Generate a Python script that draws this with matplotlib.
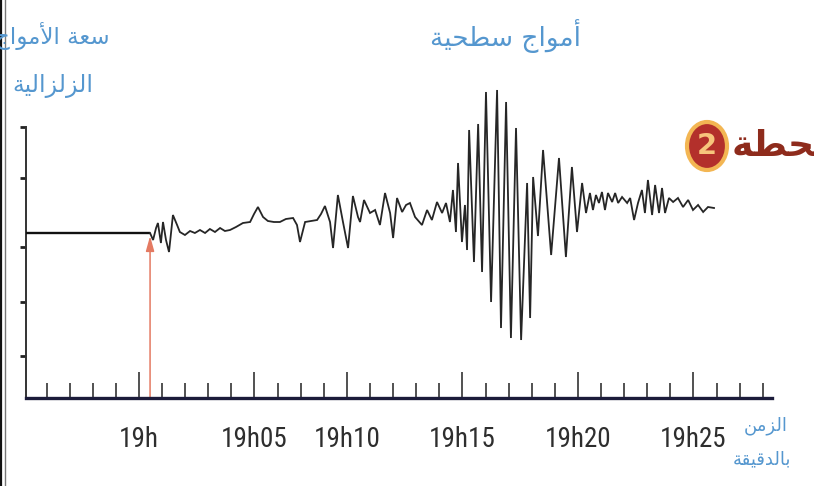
import matplotlib
matplotlib.use("Agg")
import matplotlib.pyplot as plt
from matplotlib import font_manager as fm
from matplotlib.patches import Ellipse
from matplotlib.lines import Line2D

# ---------------- data (time in minutes after 19h, amplitude in arbitrary units) -------------
baseline_t = [-4.89, 0.48]
baseline_a = [0.0, 0.0]

trace_t = [0.48, 0.61, 0.74, 0.82, 0.95, 1.04, 1.17, 1.30, 1.47, 1.65, 1.77, 1.99, 2.21, 2.42,
           2.64, 2.86, 3.07, 3.29, 3.51, 3.72, 3.94, 4.20, 4.50, 4.81, 4.98, 5.15, 5.37, 5.58,
           5.84, 6.10, 6.36, 6.67, 6.84, 6.97, 7.19, 7.45, 7.71, 7.88, 8.05, 8.27, 8.40, 8.61,
           8.83, 9.05, 9.26, 9.48, 9.57, 9.74, 10.00, 10.22, 10.43, 10.65, 10.87, 11.00, 11.17,
           11.39, 11.56, 11.73, 11.95, 12.25, 12.47, 12.68, 12.90, 13.12, 13.29, 13.46, 13.59,
           13.72, 13.81, 13.98, 14.11, 14.20, 14.29, 14.50, 14.68, 14.85, 15.02, 15.24, 15.50,
           15.67, 15.89, 16.10, 16.32, 16.54, 16.80, 16.93, 17.06, 17.27, 17.49, 17.84, 18.18,
           18.48, 18.74, 18.96, 19.18, 19.35, 19.52, 19.65, 19.78, 19.91, 20.04, 20.17, 20.30,
           20.48, 20.61, 20.74, 20.91, 21.13, 21.26, 21.43, 21.60, 21.77, 21.90, 22.03, 22.21,
           22.34, 22.51, 22.64, 22.77, 22.94, 23.12, 23.33, 23.55, 23.77, 23.98, 24.20, 24.42,
           24.63, 24.89]
trace_a = [0.0, -0.7, 0.5, 1.0, -1.0, 1.1, -0.7, -1.9, 1.8, 0.8, 0.1, -0.2, 0.2, 0.0,
           0.3, 0.0, 0.4, 0.1, 0.5, 0.2, 0.3, 0.6, 1.0, 1.1, 1.9, 2.6, 1.6, 1.2,
           1.1, 1.1, 1.4, 1.5, 0.8, -0.9, 1.1, 1.2, 1.3, 1.9, 2.7, 1.1, -1.5, 3.8,
           1.1, -1.5, 3.7, 1.6, 1.1, 3.3, 2.0, 2.3, 0.8, 4.0, 2.0, -0.5, 3.5,
           2.1, 2.8, 3.0, 1.6, 0.8, 2.3, 1.3, 3.1, 2.0, 3.0, 1.1, 4.3,
           0.1, 7.0, -0.9, 2.8, -1.7, 10.3, -2.9, 10.9, -3.9, 14.1, -6.9, 14.3,
           -9.5, 13.1, -10.5, 10.5, -10.7, 5.0, -8.5, 5.6, -0.3, 8.3, -2.2, 7.5,
           -2.4, 6.6, 0.1, 5.0, 2.0, 4.0, 2.3, 3.8, 3.0, 4.1, 2.3, 4.0,
           3.1, 4.0, 3.0, 3.6, 3.0, 3.5, 1.3, 3.0, 4.3, 2.0, 5.3, 1.8,
           4.8, 2.0, 4.5, 2.0, 3.5, 3.1, 3.5, 2.6, 3.3, 2.3, 2.8, 2.1,
           2.6, 2.5]

arrival_t = 0.48
minor_ticks = list(range(-4, 28))
major_ticks = [0, 5, 9, 14, 19, 24]
major_labels = ["19h", "19h05", "19h10", "19h15", "19h20", "19h25"]
y_ticks = [10.6, 5.5, -1.4, -6.9, -12.3]

y_title = ["سعة الأمواج", "الزلزالية"]
x_title = ["الزمن", "بالدقيقة"]
surface_label = "أمواج سطحية"
station_label = "محطة"
station_num = "2"

# ---------------- minimal Arabic shaping (presentation forms + RTL) ----------------
FORMS = {
    '\u0627': ('\uFE8D', '\uFE8E', None, None),
    '\u0623': ('\uFE83', '\uFE84', None, None),
    '\u0628': ('\uFE8F', '\uFE90', '\uFE91', '\uFE92'),
    '\u0629': ('\uFE93', '\uFE94', None, None),
    '\u062C': ('\uFE9D', '\uFE9E', '\uFE9F', '\uFEA0'),
    '\u062D': ('\uFEA1', '\uFEA2', '\uFEA3', '\uFEA4'),
    '\u062F': ('\uFEA9', '\uFEAA', None, None),
    '\u0632': ('\uFEAF', '\uFEB0', None, None),
    '\u0633': ('\uFEB1', '\uFEB2', '\uFEB3', '\uFEB4'),
    '\u0637': ('\uFEC1', '\uFEC2', '\uFEC3', '\uFEC4'),
    '\u0639': ('\uFEC9', '\uFECA', '\uFECB', '\uFECC'),
    '\u0642': ('\uFED5', '\uFED6', '\uFED7', '\uFED8'),
    '\u0644': ('\uFEDD', '\uFEDE', '\uFEDF', '\uFEE0'),
    '\u0645': ('\uFEE1', '\uFEE2', '\uFEE3', '\uFEE4'),
    '\u0646': ('\uFEE5', '\uFEE6', '\uFEE7', '\uFEE8'),
    '\u0648': ('\uFEED', '\uFEEE', None, None),
    '\u064A': ('\uFEF1', '\uFEF2', '\uFEF3', '\uFEF4'),
}
LAM_ALEF = {'\u0627': ('\uFEFB', '\uFEFC'), '\u0623': ('\uFEF7', '\uFEF8')}


def shape(s):
    chars = list(s)
    n = len(chars)
    out = []

    def joins_next(c):
        return c in FORMS and FORMS[c][2] is not None

    i = 0
    while i < n:
        c = chars[i]
        if c not in FORMS:
            out.append(c)
            i += 1
            continue
        prev_j = i > 0 and joins_next(chars[i - 1])
        if c == '\u0644' and i + 1 < n and chars[i + 1] in LAM_ALEF:
            out.append(LAM_ALEF[chars[i + 1]][1 if prev_j else 0])
            i += 2
            continue
        nxt_ok = i + 1 < n and chars[i + 1] in FORMS
        iso, fin, ini, med = FORMS[c]
        if ini is not None and nxt_ok:
            out.append(med if prev_j else ini)
        else:
            out.append(fin if prev_j else iso)
        i += 1
    return ''.join(reversed(out))


def narrow_font():
    """Pick a condensed / narrow sans font file if one is installed."""
    cands = []
    for f in fm.fontManager.ttflist:
        nm = (f.name + ' ' + f.fname).lower()
        st = str(f.stretch).lower()
        if ('narrow' in nm or 'condensed' in nm or 'condensed' in st):
            if 'italic' in nm or 'oblique' in nm or 'bold' in nm or 'light' in nm \
                    or 'thin' in nm or 'black' in nm:
                continue
            cands.append(f)
    if not cands:
        return None
    pref = ['liberation', 'roboto', 'open', 'noto', 'dejavu']
    cands.sort(key=lambda f: ([i for i, p in enumerate(pref) if p in f.fname.lower()] or [9])[0])
    return fm.FontProperties(fname=cands[0].fname)


nf = narrow_font()
if nf is None:
    tick_fp = fm.FontProperties(family='Liberation Sans', size=17)
else:
    tick_fp = nf.copy()
    tick_fp.set_size(19.5)

ar_font = ['DejaVu Sans']

W, H = 814, 486
fig = plt.figure(figsize=(W / 100, H / 100), dpi=100)
fig.patch.set_facecolor('white')


def fx(x):
    return x / W


def fy(y):
    return 1 - y / H


ax = fig.add_axes([fx(26), fy(398), fx(772) - fx(26), fy(80) - fy(398)])
ax.set_xlim(-4.89, 27.4)
ax.set_ylim(-16.5, 15.3)
ax.set_facecolor('none')

ax.plot(baseline_t, baseline_a, color='#111111', lw=1.7, solid_capstyle='butt', zorder=3)
ax.plot(trace_t, trace_a, color='#262626', lw=1.3, zorder=3, solid_joinstyle='miter')

ax.annotate('', xy=(arrival_t, -0.3), xytext=(arrival_t, -16.5),
            arrowprops=dict(arrowstyle='-|>,head_length=0.9,head_width=0.25',
                            color='#e47a62', lw=1.1, shrinkA=0, shrinkB=0), zorder=2)

for s in ['top', 'right']:
    ax.spines[s].set_visible(False)
ax.spines['bottom'].set_color('#1c1c3a')
ax.spines['bottom'].set_linewidth(2.4)
ax.spines['left'].set_color('#333333')
ax.spines['left'].set_linewidth(1.4)
ax.spines['left'].set_bounds(-16.5, 10.6)

ax.set_xticks(major_ticks)
ax.set_xticklabels(major_labels)
ax.set_xticks(minor_ticks, minor=True)
ax.tick_params(axis='x', which='major', direction='in', length=19, width=1.2,
               color='#333333', pad=20, labelcolor='#2e2e2e')
ax.tick_params(axis='x', which='minor', direction='in', length=10.5, width=1.2, color='#333333')
for lab in ax.get_xticklabels():
    lab.set_fontproperties(tick_fp)

ax.set_yticks(y_ticks)
ax.set_yticklabels([])
ax.tick_params(axis='y', which='major', direction='out', length=4.5, width=2, color='#222222')

blue = '#5597cf'
fig.text(fx(110), fy(36), shape(y_title[0]), ha='right', va='center', fontsize=16.5,
         color=blue, family=ar_font)
fig.text(fx(53), fy(86), shape(y_title[1]), ha='center', va='center', fontsize=17,
         color=blue, family=ar_font)
fig.text(fx(505), fy(36), shape(surface_label), ha='center', va='center', fontsize=19,
         color=blue, family=ar_font)
fig.text(fx(766), fy(426), shape(x_title[0]), ha='center', va='center', fontsize=13,
         color=blue, family=ar_font)
fig.text(fx(762), fy(459), shape(x_title[1]), ha='center', va='center', fontsize=13,
         color=blue, family=ar_font)

fig.text(fx(732), fy(146), shape(station_label), ha='left', va='center', fontsize=26,
         color='#8e2b1c', family=ar_font, fontweight='bold')
fig.add_artist(Ellipse((fx(707), fy(146)), width=40 / W, height=48 / H,
                       transform=fig.transFigure, facecolor='#b3302b',
                       edgecolor='#f3b653', lw=3))
fig.text(fx(707), fy(146), station_num, ha='center', va='center', fontsize=21,
         color='#f7c57c', fontweight='bold', family='DejaVu Sans')

# scan frame on the left edge
fig.add_artist(Line2D([fx(1.2), fx(1.2)], [0, 1], transform=fig.transFigure,
                      color='#111111', lw=1.6))
fig.add_artist(Line2D([fx(4.5), fx(4.5)], [0, 1], transform=fig.transFigure,
                      color='#777777', lw=1.0))

fig.savefig('out.png', dpi=100, facecolor='white')
